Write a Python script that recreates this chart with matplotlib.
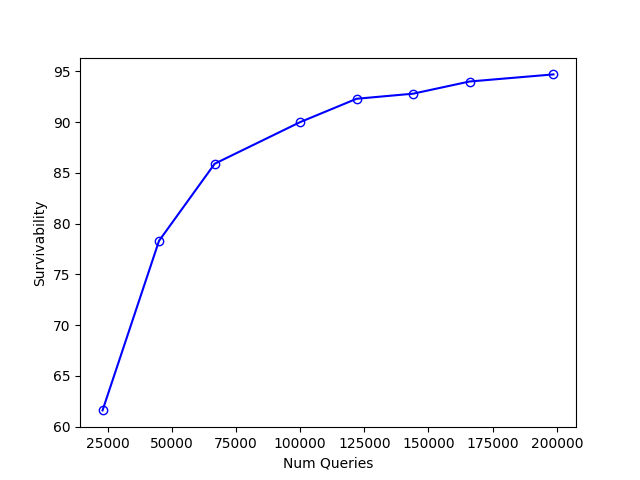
import matplotlib
matplotlib.use("Agg")
import matplotlib.pyplot as plt

num_queries = [23000, 45000, 66700, 100000, 122000, 144000, 166000, 198700]
survivability = [61.6, 78.3, 85.9, 90.0, 92.3, 92.8, 94.0, 94.7]

fig, ax = plt.subplots(figsize=(6.4, 4.8), dpi=100)
ax.plot(num_queries, survivability, color="blue", marker="o", markerfacecolor="none")
ax.set_xlabel("Num Queries")
ax.set_ylabel("Survivability")
fig.savefig("out.png")
